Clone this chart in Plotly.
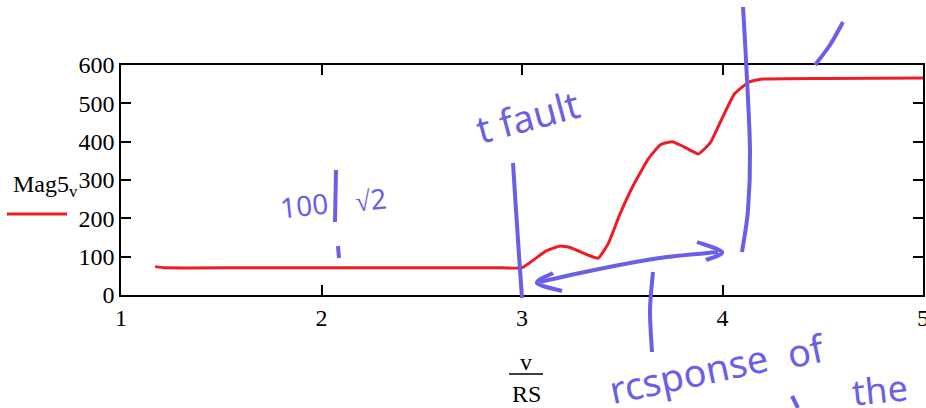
import plotly.graph_objects as go

# Mag5_v against v/RS
v_over_rs = [1.17, 1.22, 1.6, 2.0, 2.5, 2.9, 3.0, 3.12, 3.19, 3.24, 3.33, 3.38,
             3.43, 3.49, 3.56, 3.63, 3.69, 3.75, 3.81, 3.88, 3.94, 3.99, 4.06,
             4.13, 4.19, 4.5, 5.0]
mag5 = [74, 71, 71, 71, 71, 71, 71, 115, 128, 124, 104, 96,
        134, 213, 291, 355, 392, 400, 386, 368, 398, 452, 525,
        555, 563, 565, 566]

x_ticks = [1, 2, 3, 4, 5]
y_ticks = [0, 100, 200, 300, 400, 500, 600]

W, H = 926, 408
ML, MR, MT, MB = 121, 3, 65, 113
PW, PH = W - ML - MR, H - MT - MB

INK = "#6a5fe6"
SERIF = "Liberation Serif"
HAND = "Noto Sans"


def fx(px):
    return (px - ML) / PW


def fy(py):
    return (H - MB - py) / PH


def stroke_path(pts):
    """Smooth Catmull-Rom stroke through pixel points, as a paper-space SVG path."""
    p = [(fx(a), fy(b)) for a, b in pts]
    if len(p) == 2:
        return f"M{p[0][0]},{p[0][1]} L{p[1][0]},{p[1][1]}"
    d = f"M{p[0][0]},{p[0][1]}"
    for i in range(len(p) - 1):
        p0 = p[i - 1] if i > 0 else p[i]
        p1, p2 = p[i], p[i + 1]
        p3 = p[i + 2] if i + 2 < len(p) else p[i + 1]
        c1 = (p1[0] + (p2[0] - p0[0]) / 6, p1[1] + (p2[1] - p0[1]) / 6)
        c2 = (p2[0] - (p3[0] - p1[0]) / 6, p2[1] - (p3[1] - p1[1]) / 6)
        d += f" C{c1[0]},{c1[1]} {c2[0]},{c2[1]} {p2[0]},{p2[1]}"
    return d


def note(text, px, py, size, color="black", family=SERIF, angle=0, xanchor="center"):
    return dict(xref="paper", yref="paper", x=fx(px), y=fy(py),
                xanchor=xanchor, yanchor="middle", showarrow=False,
                text=text, textangle=angle,
                font=dict(family=family, size=size, color=color))


fig = go.Figure()
fig.add_trace(go.Scatter(
    x=v_over_rs, y=mag5, mode="lines",
    line=dict(color="#ee1c25", width=3, shape="spline", smoothing=0.4),
    showlegend=False, hoverinfo="skip",
))

axis_common = dict(
    showline=True, linecolor="black", linewidth=1.6, mirror="ticks",
    ticks="inside", ticklen=10, tickwidth=1.5, tickcolor="black",
    showgrid=False, zeroline=False, automargin=False,
    tickfont=dict(family=SERIF, size=24, color="black"),
)
fig.update_xaxes(range=[1, 5], tickvals=x_ticks, ticktext=[str(t) for t in x_ticks],
                 ticklabeloverflow="allow", **axis_common)
fig.update_yaxes(range=[0, 600], tickvals=y_ticks, ticktext=[str(t) for t in y_ticks],
                 ticklabelstandoff=0, **axis_common)

shapes = []
annotations = []

# legend: name above a red sample line
annotations.append(note("Mag5<sub>v</sub>", 11, 186, 24, xanchor="left"))
shapes.append(dict(type="line", xref="paper", yref="paper",
                   x0=fx(7), x1=fx(67), y0=fy(214), y1=fy(214),
                   line=dict(color="#ee1c25", width=3)))

# x-axis title as a fraction v / RS
annotations.append(note("v", 526, 362, 24))
shapes.append(dict(type="line", xref="paper", yref="paper",
                   x0=fx(509), x1=fx(543), y0=fy(374), y1=fy(374),
                   line=dict(color="black", width=1.5)))
annotations.append(note("RS", 526, 394, 24))

# pen marks
pen_strokes = [
    [(513, 163), (516, 210), (519, 255), (522, 298)],                 # fault instant
    [(540, 282), (580, 273), (630, 263), (667, 257), (718, 252)],     # response span
    [(553, 273), (537, 283), (562, 291)],                             # left arrow head
    [(697, 242), (722, 252), (706, 260)],                             # right arrow head
    [(743, 7), (746, 60), (750, 150), (748, 210), (742, 252)],        # settled
    [(815, 65), (830, 45), (843, 22)],
    [(336, 170), (335, 222)],
    [(338, 246), (339, 258)],
    [(653, 272), (650, 310), (652, 352)],
    [(792, 396), (798, 408)],
]
for pts in pen_strokes:
    shapes.append(dict(type="path", xref="paper", yref="paper",
                       path=stroke_path(pts),
                       line=dict(color=INK, width=4)))

pen_notes = [
    ("t fault", 527, 116, -15, 38),
    ("100", 304, 205, -6, 28),
    ("√2", 370, 199, -6, 28),
    ("rcsponse", 688, 373, -12, 38),
    ("of", 806, 350, -12, 38),
    ("the", 880, 389, -6, 36),
]
for txt, px, py, ang, size in pen_notes:
    annotations.append(note(txt, px, py, size, color=INK, family=HAND, angle=ang))

fig.update_layout(
    width=W, height=H,
    margin=dict(l=ML, r=MR, t=MT, b=MB),
    paper_bgcolor="white", plot_bgcolor="white",
    shapes=shapes, annotations=annotations,
)

fig.write_html("out.html")
